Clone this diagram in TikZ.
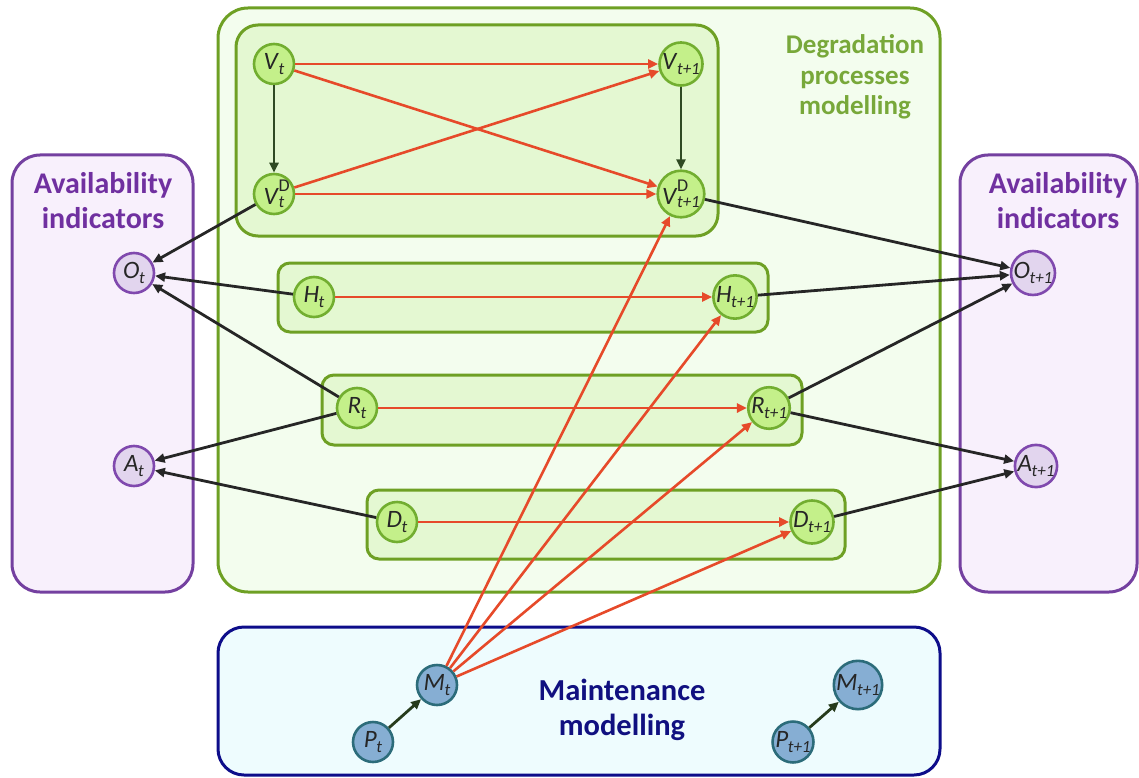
\documentclass[tikz,border=0pt]{standalone}
\usepackage{fontspec}
\setmainfont{Carlito}
\usetikzlibrary{arrows.meta}
\definecolor{redc}{HTML}{E64A2A}
\definecolor{darkc}{HTML}{262626}
\definecolor{dgreen}{HTML}{2F4A23}
\definecolor{gnodefill}{HTML}{C4F08A}
\definecolor{gnodeline}{HTML}{72AE30}
\definecolor{gboxfill}{HTML}{E4F8D2}
\definecolor{gline}{HTML}{6EA024}
\definecolor{gbigfill}{HTML}{F3FDEE}
\definecolor{pnodefill}{HTML}{E2D5EE}
\definecolor{pnodeline}{HTML}{8049AE}
\definecolor{pboxfill}{HTML}{F8F0FC}
\definecolor{pline}{HTML}{7440A0}
\definecolor{ptext}{HTML}{7030A0}
\definecolor{gtext}{HTML}{78A83A}
\definecolor{bboxfill}{HTML}{EEFCFE}
\definecolor{bline}{HTML}{0D0D8A}
\definecolor{bnodefill}{HTML}{86AED3}
\definecolor{bnodeline}{HTML}{2C6C7A}
\definecolor{btext}{HTML}{101080}
\newcommand{\lab}[2]{\textit{#1}\kern-0.5pt{\fontsize{17}{17}\selectfont\raisebox{-0.28em}{\textit{#2}}}}
\newcommand{\labD}[2]{\textit{#1}\kern-0.5pt\rlap{\raisebox{13pt}{\fontsize{18}{18}\selectfont D}}{\fontsize{17}{17}\selectfont\raisebox{-3pt}{\textit{#2}}}}
\begin{document}
\begin{tikzpicture}[x=1pt,y=-1pt,
  nodebase/.style={circle,minimum size=40pt,inner sep=0pt,line width=2.6pt,font=\fontsize{25}{28}\selectfont,text=darkc},
  gnode/.style={nodebase,fill=gnodefill,draw=gnodeline},
  pnode/.style={nodebase,fill=pnodefill,draw=pnodeline},
  bnode/.style={nodebase,fill=bnodefill,draw=bnodeline},
  pbox/.style={draw=pline,fill=pboxfill,line width=3pt,rounded corners=28pt},
  gbig/.style={draw=gline,fill=gbigfill,line width=3pt,rounded corners=30pt},
  gbox/.style={draw=gline,fill=gboxfill,line width=3pt,rounded corners=12pt},
  bbox/.style={draw=bline,fill=bboxfill,line width=3pt,rounded corners=26pt},
  tip/.style={-{Triangle[length=10pt,width=9pt]}},
  redarr/.style={tip,draw=redc,line width=2.6pt},
  blackarr/.style={tip,draw=darkc,line width=2.8pt},
  greenarr/.style={tip,draw=dgreen,line width=2.8pt},
  title/.style={font=\bfseries\fontsize{30}{35}\selectfont,align=center}
]
\useasboundingbox (0,0) rectangle (1139,778);
% containers
\draw[pbox] (12,155) rectangle (193,592);
\draw[pbox] (960,155) rectangle (1137,592);
\draw[gbig] (218,8) rectangle (940,592);
\draw[bbox] (218,627) rectangle (940,775);
\draw[gbox,rounded corners=22pt] (236,25) rectangle (718,236);
\draw[gbox] (278,263) rectangle (768,332);
\draw[gbox] (322,375) rectangle (802,445);
\draw[gbox] (367,490) rectangle (845,559);
% titles
\node[title,text=ptext] (avl) at (103,201) {Availability\\indicators};
\node[title,text=ptext] (avr) at (1058,201) {Availability\\indicators};
\node[title,text=gtext,font=\bfseries\fontsize{27}{30.5}\selectfont] (deg) at (855,77) {Degradation\\processes\\modelling};
\node[title,text=btext,font=\bfseries\fontsize{30.5}{35}\selectfont] (mm) at (622,710) {Maintenance\\modelling};
% nodes
\node[gnode] (vt) at (274,64) {\lab{V}{t}};
\node[gnode] (vt1) at (681,64) {\lab{V}{t+1}};
\node[gnode] (vdt) at (274,194) {\labD{V}{t}};
\node[gnode] (vdt1) at (681,194) {\labD{V}{t+1}};
\node[gnode] (ht) at (314,297) {\lab{H}{t}};
\node[gnode] (ht1) at (735,297) {\lab{H}{t+1}};
\node[gnode] (rt) at (357,408) {\lab{R}{t}};
\node[gnode] (rt1) at (769,408) {\lab{R}{t+1}};
\node[gnode] (dt) at (397,522) {\lab{D}{t}};
\node[gnode] (dt1) at (812,522) {\lab{D}{t+1}};
\node[pnode] (ot) at (134,273) {\lab{O}{t}};
\node[pnode] (at) at (134,466) {\lab{A}{t}};
\node[pnode] (ot1) at (1033,273) {\lab{O}{t+1}};
\node[pnode] (at1) at (1036,466) {\lab{A}{t+1}};
\node[bnode] (mt) at (437,685) {\lab{M}{t}};
\node[bnode] (pt) at (373,742) {\lab{P}{t}};
\node[bnode] (mt1) at (858,685) {\lab{M}{t+1}};
\node[bnode] (pt1) at (793,742) {\lab{P}{t+1}};
% degradation edges
\draw[redarr] (vt) -- (vt1);
\draw[redarr] (vt) -- (vdt1);
\draw[redarr] (vdt) -- (vt1);
\draw[redarr] (vdt) -- (vdt1);
\draw[greenarr] (vt) -- (vdt);
\draw[greenarr] (vt1) -- (vdt1);
\draw[redarr] (ht) -- (ht1);
\draw[redarr] (rt) -- (rt1);
\draw[redarr] (dt) -- (dt1);
% indicators
\draw[blackarr] (vdt) -- (ot);
\draw[blackarr] (ht) -- (ot);
\draw[blackarr] (rt) -- (ot);
\draw[blackarr] (rt) -- (at);
\draw[blackarr] (dt) -- (at);
\draw[blackarr] (vdt1) -- (ot1);
\draw[blackarr] (ht1) -- (ot1);
\draw[blackarr] (rt1) -- (ot1);
\draw[blackarr] (rt1) -- (at1);
\draw[blackarr] (dt1) -- (at1);
% maintenance
\draw[redarr] (mt) -- (vdt1);
\draw[redarr] (mt) -- (ht1);
\draw[redarr] (mt) -- (rt1);
\draw[redarr] (mt) -- (dt1);
\draw[blackarr,draw=dgreen!80!black] (pt) -- (mt);
\draw[blackarr,draw=dgreen!80!black] (pt1) -- (mt1);
\end{tikzpicture}
\end{document}
